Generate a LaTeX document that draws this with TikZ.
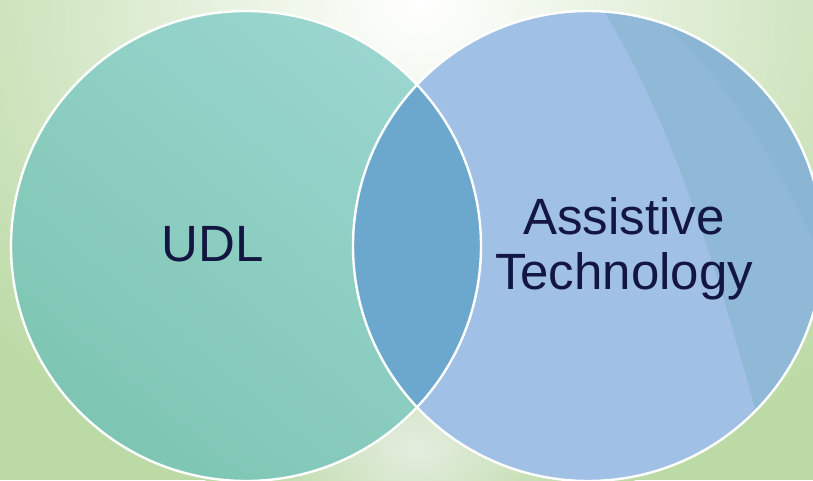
\documentclass[tikz,border=0pt]{standalone}
\usepackage{fontspec}
\setmainfont{Liberation Sans}
\usepackage{xcolor}
\usepackage{tikz}
\usetikzlibrary{positioning}
\definecolor{bggreen}{RGB}{188,218,166}
\definecolor{bgpale}{RGB}{236,241,234}
\definecolor{teallight}{RGB}{154,214,207}
\definecolor{tealdark}{RGB}{126,197,179}
\definecolor{bluelight}{RGB}{160,192,229}
\definecolor{bluedark}{RGB}{134,180,207}
\definecolor{overlap}{RGB}{108,168,206}
\definecolor{navy}{RGB}{18,22,64}
\tikzset{
  setc/.style ={draw=white,line width=2.4pt},
  label/.style={text=navy,inner sep=0pt,align=center,
                font=\fontsize{51}{55}\selectfont},
}

\begin{document}
\begin{tikzpicture}[x=1pt,y=1pt]
  \useasboundingbox (0,0) rectangle (813,480);
  \clip (0,0) rectangle (813,480);
  % background
  \fill[bggreen] (0,0) rectangle (813,480);
  \shade[inner color=white,outer color=bggreen] (420,480) ellipse (560 and 520);
  \shade[inner color=bgpale,outer color=bggreen,opacity=.8] (417,30) ellipse (170 and 120);
  % the two sets
  \shade[top color=teallight,middle color=teallight,bottom color=tealdark,
         shading angle=-40] (246,234) circle (235);
  \fill[bluelight] (588,234) circle (235);
  \begin{scope}
    \clip (588,234) circle (235);
    \fill[bluedark,opacity=.6] (596,482) .. controls (660,380) and (710,250) .. (775,-5)
      -- (830,-5) -- (830,482) -- cycle;
    \fill[bluedark,opacity=.45] (640,482) .. controls (730,400) and (790,300) .. (830,200)
      -- (830,482) -- cycle;
    \clip (246,234) circle (235);
    \fill[overlap] (246,234) circle (235);
  \end{scope}
  \draw[setc] (246,234) circle (235);
  \draw[setc] (588,234) circle (235);
  % labels
  \node[label] (udl) at (213,236) {UDL};
  \node[label] (at) at (624,231) {Assistive\\Technology};
\end{tikzpicture}
\end{document}
